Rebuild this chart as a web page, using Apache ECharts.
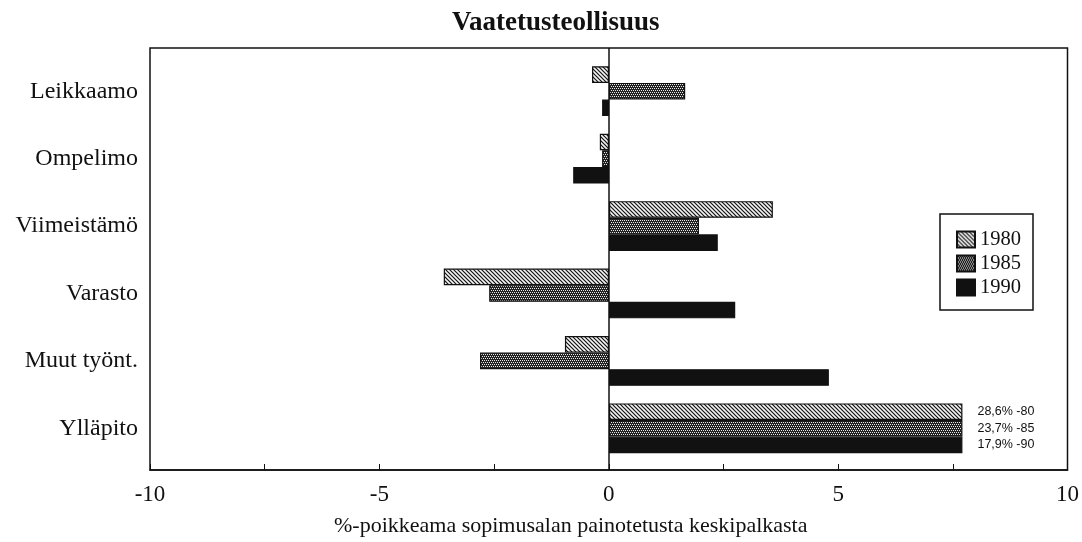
<!DOCTYPE html>
<html><head><meta charset="utf-8">
<script src="https://cdn.jsdelivr.net/npm/echarts@6/dist/echarts.min.js"></script>
<style>html,body{margin:0;padding:0;background:#fff}#c{width:1082px;height:542px}</style>
</head><body><div id="c"></div>
<script>
const title = 'Vaatetusteollisuus';
const categories = ['Leikkaamo', 'Ompelimo', 'Viimeistämö', 'Varasto', 'Muut työnt.', 'Ylläpito'];
const years = ['1980', '1985', '1990'];
const values1980 = [-0.37, -0.20, 3.57, -3.60, -0.96, 28.6];
const values1985 = [1.66, -0.15, 1.96, -2.61, -2.81, 23.7];
const values1990 = [-0.15, -0.78, 2.37, 2.75, 4.79, 17.9];
const xTicks = [-10, -5, 0, 5, 10];
const axisName = '%-poikkeama sopimusalan painotetusta keskipalkasta';
const barCap = 7.7; // bars beyond the axis are drawn cut off, real value written beside

function pat(draw, w, h) {
  const c = document.createElement('canvas'); c.width = w; c.height = h;
  const g = c.getContext('2d'); draw(g); return c;
}
const hatch = pat(g => {
  g.fillStyle = '#f4f4f4'; g.fillRect(0, 0, 4, 4);
  g.strokeStyle = '#111'; g.lineWidth = 1.2;
  g.beginPath();
  g.moveTo(-1, -1); g.lineTo(5, 5);
  g.moveTo(-1, 3); g.lineTo(1, 5);
  g.moveTo(3, -1); g.lineTo(5, 1);
  g.stroke();
}, 4, 4);
const dots = pat(g => {
  g.fillStyle = '#222'; g.fillRect(0, 0, 4, 4);
  g.fillStyle = '#e8e8e8';
  g.fillRect(0, 0, 1, 1); g.fillRect(2, 0, 1, 1);
  g.fillRect(1, 2, 1, 1); g.fillRect(3, 2, 1, 1);
}, 4, 4);
const fills = [{image: hatch, repeat: 'repeat'}, {image: dots, repeat: 'repeat'}, '#111'];
const serif = '"Liberation Serif", "Times New Roman", serif';

function mkData(vals, yr) {
  return vals.map(v => {
    if (v > barCap) {
      return {value: barCap, label: {show: true, position: 'right', distance: 15,
        formatter: String(v).replace('.', ',') + '% -' + yr.slice(2),
        fontFamily: '"Liberation Sans", Arial, sans-serif', fontSize: 12.5, color: '#111',
        padding: [4, 0, 0, 0]}};
    }
    return v;
  });
}
const allVals = [values1980, values1985, values1990];
const barSeries = years.map((y, i) => ({
  name: y, type: 'bar', xAxisIndex: 1, yAxisIndex: 1,
  data: mkData(allVals[i], y),
  barWidth: 16.6, barGap: '0%',
  itemStyle: {color: fills[i], borderColor: '#111', borderWidth: 1.2},
  label: {show: false}
}));

const chart = echarts.init(document.getElementById('c'), null, {renderer: 'canvas'});
chart.setOption({
  animation: false,
  backgroundColor: '#fff',
  title: {text: title, left: 447, top: 5,
    textStyle: {fontFamily: serif, fontSize: 27, fontWeight: 'bold', color: '#111'}},
  legend: {data: years, orient: 'vertical', right: 49, top: 214,
    backgroundColor: '#fff', borderColor: '#111', borderWidth: 1.5, borderRadius: 0,
    padding: [15, 12, 12, 16], itemGap: 3, itemWidth: 18, itemHeight: 16, icon: 'rect',
    textStyle: {fontFamily: serif, fontSize: 20.5, color: '#111'}},
  grid: [
    {left: 150, right: 14, top: 48, bottom: 70, show: true, borderColor: '#111', borderWidth: 1.5, backgroundColor: 'transparent'},
    {left: 150, right: 14, top: 57.5, bottom: 80}
  ],
  xAxis: [
    {type: 'value', gridIndex: 0, min: xTicks[0], max: xTicks[xTicks.length - 1], interval: 5,
     axisLine: {show: true, lineStyle: {color: '#111', width: 1.5}},
     axisTick: {show: true, inside: true, length: 6, lineStyle: {color: '#111'}},
     minorTick: {show: true, splitNumber: 2, length: 6, lineStyle: {color: '#111'}},
     splitLine: {show: false},
     axisLabel: {margin: 13, fontFamily: serif, fontSize: 23, color: '#111'},
     name: axisName, nameLocation: 'middle', nameGap: 45,
     nameTextStyle: {fontFamily: serif, fontSize: 22, color: '#111', padding: [0, 76, 0, 0]}},
    {type: 'value', gridIndex: 1, min: xTicks[0], max: xTicks[xTicks.length - 1], show: false}
  ],
  yAxis: [
    {type: 'value', gridIndex: 0, min: 0, max: 1, show: false},
    {type: 'category', gridIndex: 1, data: categories, inverse: true,
     axisLine: {show: false}, axisTick: {show: false}, splitLine: {show: false},
     axisLabel: {margin: 12, fontFamily: serif, fontSize: 24, color: '#111', padding: [10, 0, 0, 0]}}
  ],
  series: [
    {type: 'line', xAxisIndex: 0, yAxisIndex: 0, data: [], silent: true,
     markLine: {silent: true, symbol: 'none', label: {show: false},
       lineStyle: {color: '#111', width: 1.5, type: 'solid'}, data: [{xAxis: 0}]}},
    ...barSeries
  ]
});
</script></body></html>
